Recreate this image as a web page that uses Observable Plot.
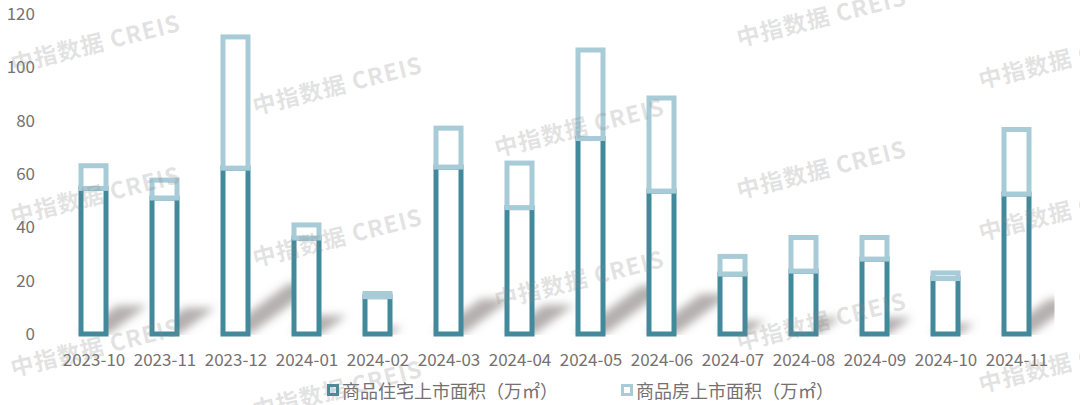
<!DOCTYPE html>
<html>
<head>
<meta charset="utf-8">
<script src="https://cdn.jsdelivr.net/npm/d3@7"></script>
<script src="https://cdn.jsdelivr.net/npm/@observablehq/plot@0.6"></script>
<style>
  html, body { margin: 0; padding: 0; background: #ffffff; }
  #wrap { position: relative; width: 1080px; height: 405px; overflow: hidden; background: #fff; }
  #legend { position: absolute; left: 327px; top: 378px; height: 24px; display: flex; align-items: center;
    font-family: "Noto Sans CJK SC", sans-serif; font-size: 18px; color: #767171; white-space: nowrap; }
  .item { display: flex; align-items: center; }
  .sw { width: 6px; height: 6px; box-sizing: content-box; margin-right: 3px; }
  #wm { position: absolute; left: 0; top: 0; width: 1080px; height: 405px; pointer-events: none; }
  .wmk { position: absolute; font-family: "Noto Sans CJK SC", sans-serif; font-weight: 700; font-size: 23px;
    color: rgba(140,140,140,0.25); white-space: nowrap; transform: translate(-50%, -50%) rotate(-14deg); letter-spacing: 1px; }
</style>
</head>
<body>
<div id="wrap">
  <div id="chart"></div>
  <div id="legend"></div>
  <div id="wm"></div>
</div>
<script>
// ---- data ----
const months = ["2023-10","2023-11","2023-12","2024-01","2024-02","2024-03","2024-04","2024-05","2024-06","2024-07","2024-08","2024-09","2024-10","2024-11"];
const residential = [54.6, 51.0, 62.2, 36.0, 14.0, 62.6, 47.4, 73.3, 53.6, 22.5, 23.6, 28.1, 20.8, 52.5];
const commercialTop = [63.1, 57.7, 111.4, 40.9, 15.2, 77.2, 64.1, 106.5, 88.5, 29.1, 36.2, 36.2, 22.9, 76.7];
const seriesNames = ["商品住宅上市面积（万㎡）", "商品房上市面积（万㎡）"];
const seriesColors = ["#41899B", "#A7CBD7"];
const yTicks = [0, 20, 40, 60, 80, 100, 120];
const watermarkText = "中指数据 CREIS";

const rows = months.map((m, i) => ({month: m, res: residential[i], top: commercialTop[i]}));

// decorative perspective shadow behind each bar (uses the plot's own scales)
function shadowMark(index, scales, values, dimensions) {
  const g = d3.create("svg:g");
  const defs = g.append("defs");
  const f = defs.append("filter").attr("id", "shBlur").attr("x", "-50%").attr("y", "-50%").attr("width", "200%").attr("height", "200%");
  f.append("feGaussianBlur").attr("stdDeviation", 4.5);
  defs.append("clipPath").attr("id", "shClip").append("rect")
    .attr("x", 0).attr("y", 0)
    .attr("width", dimensions.width - dimensions.marginRight + 2)
    .attr("height", dimensions.height - dimensions.marginBottom + 1);
  const bw = scales.x.bandwidth ? scales.x.bandwidth() : 25;
  const y0 = scales.y(0);
  const inner = g.append("g").attr("clip-path", "url(#shClip)").append("g").attr("filter", "url(#shBlur)");
  rows.forEach(r => {
    const xl = scales.x(r.month) - 2.5, xr = scales.x(r.month) + bw + 2.5;
    const H = y0 - scales.y(r.top);
    const dy = 0.17 * H, dx = dy * 1.35;
    inner.append("path")
      .attr("d", `M${xl},${y0}L${xr},${y0}L${xr + dx},${y0 - dy}L${xl + dx},${y0 - dy}Z`)
      .attr("fill", "rgb(105,96,94)")
      .attr("fill-opacity", 0.5);
  });
  return g.node();
}

const plot = Plot.plot({
  width: 1080,
  height: 372,
  marginLeft: 57.5,
  marginRight: 27.5,
  marginTop: 14,
  marginBottom: 38,
  style: {fontSize: "17px", fontFamily: "'Noto Sans CJK SC', sans-serif", color: "#767171", background: "transparent", overflow: "visible"},
  x: {type: "band", domain: months, paddingInner: 0.648, paddingOuter: 0.324, label: null, tickSize: 0, tickPadding: 19},
  y: {domain: [0, 120], ticks: yTicks, label: null, tickSize: 0, tickPadding: 23},
  marks: [
    shadowMark,
    Plot.barY(rows, {x: "month", y1: 0, y2: "res", fill: "white", stroke: seriesColors[0], strokeWidth: 5}),
    Plot.barY(rows, {x: "month", y1: "res", y2: "top", fill: "white", stroke: seriesColors[1], strokeWidth: 5})
  ]
});
document.getElementById("chart").appendChild(plot);

// legend
const legend = d3.select("#legend");
seriesNames.forEach((name, i) => {
  const it = legend.append("div").attr("class", "item").style("margin-right", i === 0 ? "63px" : "0");
  it.append("div").attr("class", "sw")
    .style("border", `3px solid ${seriesColors[i]}`)
    .style("background", i === 0 ? "#dfeef2" : "#ffffff");
  it.append("span").text(name);
});

// watermarks (only those whose centre lies on the canvas)
const wmCols = [95, 337, 579, 821, 1063];
const wmRows = [-110, 42, 194, 346, 498];
const wm = d3.select("#wm");
wmCols.forEach((cx, ci) => {
  wmRows.forEach(ry => {
    const cy = ry + 42 * ci;
    if (cy < 10 || cy > 395) return;
    wm.append("div").attr("class", "wmk").style("left", cx + "px").style("top", cy + "px").text(watermarkText);
  });
});
</script>
</body>
</html>
